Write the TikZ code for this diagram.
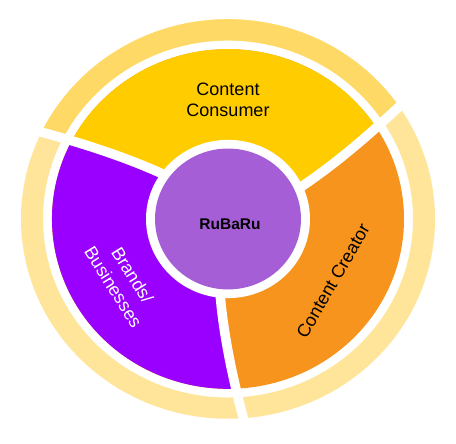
\documentclass[tikz,border=0pt]{standalone}
\usepackage{fontspec}
\setmainfont{Liberation Sans}
\definecolor{ccyellow}{HTML}{FFCC00}
\definecolor{ccpurple}{HTML}{9900FF}
\definecolor{ccorange}{HTML}{F7941E}
\definecolor{cccenter}{HTML}{A65ED6}
\definecolor{ringdark}{HTML}{FFD966}
\definecolor{ringlight}{HTML}{FFE599}
\tikzset{
  lbl/.style={inner sep=0pt, font=\fontsize{18}{21}\selectfont, text=black},
  gapline/.style={white, line width=9.5pt},
}
\begin{document}
\begin{tikzpicture}[x=1pt,y=1pt]
\fill[white] (0,0) rectangle (456,444);
\useasboundingbox (0,0) rectangle (456,444);
\begin{scope}[shift={(228,225)}, yscale=0.965]
  % outer ring
  \fill[ringlight, even odd rule] (0,0) circle[radius=207] (0,0) circle[radius=185];
  \fill[ringdark] (33.4:207) arc[start angle=33.4, end angle=153.4, radius=207]
     -- (153.4:185) arc[start angle=153.4, end angle=33.4, radius=185] -- cycle;
  % segments
  \fill[ccorange] (0,0) circle[radius=176];
  \fill[ccyellow] (0,0) -- plot[domain=60:176, samples=30, variable=\r] ({24.7+10.31*ln(\r/82)}:{\r})
     arc[start angle={24.7+10.31*ln(176/82)}, delta angle=120, radius=176]
     -- plot[domain=176:60, samples=30, variable=\r] ({144.7+10.31*ln(\r/82)}:{\r}) -- cycle;
  \fill[ccpurple] (0,0) -- plot[domain=60:176, samples=30, variable=\r] ({144.7+10.31*ln(\r/82)}:{\r})
     arc[start angle={144.7+10.31*ln(176/82)}, delta angle=120, radius=176]
     -- plot[domain=176:60, samples=30, variable=\r] ({264.7+10.31*ln(\r/82)}:{\r}) -- cycle;
  % white gaps
  \foreach \t in {24.7,144.7,264.7}
    \draw[gapline] plot[domain=60:222, samples=40, variable=\r] ({\t+10.31*ln(\r/82)}:{\r});
  % centre
  \fill[white] (0,0) circle[radius=82];
  \fill[cccenter] (0,0) circle[radius=73];
\end{scope}
\node[lbl, align=center] (consumer) at (228,344) {Content\\Consumer};
\node[lbl, font=\fontsize{15.5}{18}\selectfont\bfseries] (rubaru) at (230,220) {RuBaRu};
\node[lbl, font=\fontsize{18}{22.5}\selectfont, text=white, rotate=-58, align=center] (brands) at (123,163) {Brands/\\Businesses};
\node[lbl, rotate=60] (creator) at (333,163) {Content Creator};
\end{tikzpicture}
\end{document}
